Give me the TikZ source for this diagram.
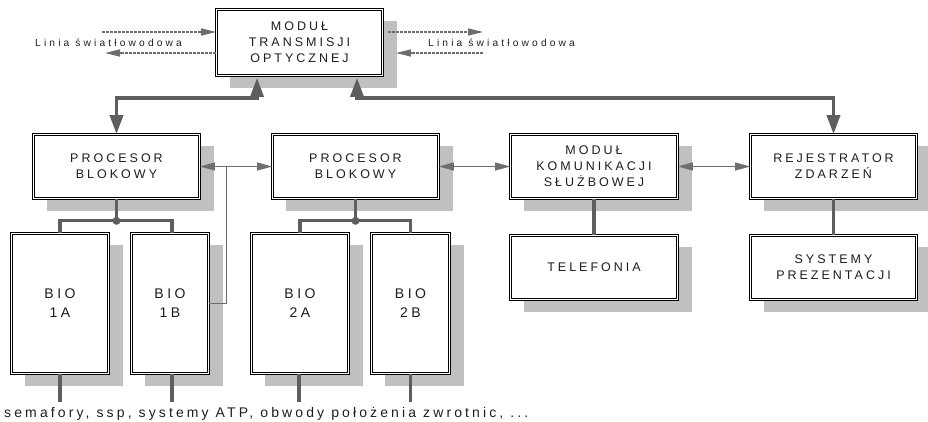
\documentclass[tikz,border=0pt]{standalone}
\usepackage{fontspec}
\setmainfont{Liberation Sans}
\newfontfamily\boxf{Liberation Sans}[LetterSpace=24]
\newfontfamily\biof{Liberation Sans}[LetterSpace=25]
\newfontfamily\linf{Liberation Sans}[LetterSpace=31]
\newfontfamily\botf{Liberation Sans}[LetterSpace=22.3]
\usetikzlibrary{arrows.meta,calc,backgrounds}
\definecolor{lc}{HTML}{5E5E5E}
\definecolor{sc}{HTML}{C0C0C0}
\definecolor{tc}{HTML}{6E6E6E}
\definecolor{txc}{HTML}{1E1E1E}
\newcommand\shadowof[1]{\fill[sc] ($(#1.south west)+(14,12)$) rectangle ($(#1.north east)+(14,12)$);}
\begin{document}
\begin{tikzpicture}[x=1pt,y=-1pt,
  blk/.style={draw=black,double=white,line width=0.7pt,double distance=1.8pt,fill=white,inner sep=0pt,align=center,text=txc,font=\boxf\fontsize{12.5}{16}\selectfont},
  bio/.style={blk,font=\biof\fontsize{14}{19}\selectfont},
  karr/.style={draw=lc,line width=3.5pt,{Triangle[length=19pt,width=13pt]}-{Triangle[length=19pt,width=13pt]}},
  kline/.style={draw=lc,line width=3.2pt},
  tarr/.style={draw=tc,line width=1pt,{Triangle[length=15pt,width=8pt]}-{Triangle[length=15pt,width=8pt]}},
  tline/.style={draw=tc,line width=1pt},
  darr/.style={draw=tc,line width=1.3pt,dash pattern=on 3pt off 1pt,-{Triangle[length=15pt,width=7pt]}},
  lbl/.style={inner sep=0pt,text=txc,anchor=base west}]
\useasboundingbox (0,0) rectangle (928,422);
% boxes
\node[blk,minimum width=166,minimum height=66] (top) at (299.5,42.5) {MODUŁ\\TRANSMISJI\\OPTYCZNEJ};
\node[blk,minimum width=166,minimum height=64] (pb1) at (116.5,166.5) {PROCESOR\\BLOKOWY};
\node[blk,minimum width=166,minimum height=64] (pb2) at (355.5,166.5) {PROCESOR\\BLOKOWY};
\node[blk,minimum width=167,minimum height=64] (mks) at (594,166.5) {MODUŁ\\KOMUNIKACJI\\SŁUŻBOWEJ};
\node[blk,minimum width=166,minimum height=64] (rej) at (833.5,166.5) {REJESTRATOR\\ZDARZEŃ};
\node[blk,minimum width=167,minimum height=64] (tel) at (594,267.5) {TELEFONIA};
\node[blk,minimum width=166,minimum height=64] (sys) at (833.5,267.5) {SYSTEMY\\PREZENTACJI};
\node[bio,minimum width=97,minimum height=140] (b1a) at (60,303.5) {BIO\\1A};
\node[bio,minimum width=77,minimum height=140] (b1b) at (170,303.5) {BIO\\1B};
\node[bio,minimum width=97,minimum height=140] (b2a) at (300,303.5) {BIO\\2A};
\node[bio,minimum width=78,minimum height=140] (b2b) at (410.5,303.5) {BIO\\2B};
\begin{scope}[on background layer]
\foreach \n in {top,pb1,pb2,mks,rej,tel,sys,b1a,b1b,b2a,b2b}{\shadowof{\n}}
\end{scope}
% labels
\node[lbl,font=\linf\fontsize{10.2}{12}\selectfont] (ll) at (35,46.5) {Linia światłowodowa};
\node[lbl,font=\linf\fontsize{10.2}{12}\selectfont] (lr) at (428,46.5) {Linia światłowodowa};
\node[lbl,font=\botf\fontsize{14}{16}\selectfont] (bot) at (4,417.5) {semafory, ssp, systemy ATP, obwody położenia zwrotnic, ...};
% dashed fibre arrows
\coordinate (la1) at (102,32);
\coordinate (la2) at (105,53);
\coordinate (ra1) at (483,32);
\coordinate (ra2) at (483,53);
\draw[darr] (la1) -- (la1 -| top.west);
\draw[darr] (la2 -| top.west) -- (la2);
\draw[darr] ($(ra1 -| top.east)+(5,0)$) -- (ra1);
\draw[darr] (ra2) -- ($(ra2 -| top.east)+(13,0)$);
% thick arrows to top module
\coordinate (t1) at (257,98);
\coordinate (t2) at (357,98);
\draw[karr] (pb1.north) |- (t1) -- ($(t1 |- top.south)+(0,2)$);
\draw[karr] ($(t2 |- top.south)+(0,2)$) -- (t2) -| (rej.north);
% thin arrows between row 2
\draw[tarr] (pb1.east) -- (pb2.west);
\draw[tarr] (pb2.east) -- (mks.west);
\draw[tarr] (mks.east) -- (rej.west);
\coordinate (v1) at ($(pb1.east)+(27,0)$);
\draw[tline] (b1b.east) -| (v1);
% processor to BIO
\coordinate (j1) at ($(pb1.south)+(0,22)$);
\coordinate (j2) at ($(pb2.south)+(0,22)$);
\draw[kline] (pb1.south) -- (j1);
\draw[kline] (b1a.north) |- (j1) -| ($(b1b.north)+(2,0)$);
\fill[lc] (j1) circle (4);
\draw[kline] (pb2.south) -- (j2);
\draw[kline] (b2a.north) |- (j2) -| (b2b.north);
\fill[lc] (j2) circle (4);
\draw[kline] (mks.south) -- (tel.north);
\draw[kline] (rej.south) -- (sys.north);
% BIO to field devices
\foreach \n/\dx in {b1a/0,b1b/2,b2a/-1,b2b/0}{
  \draw[kline] ($(\n.south)+(\dx,0)$) -- ++(0,28);
}
\end{tikzpicture}
\end{document}
